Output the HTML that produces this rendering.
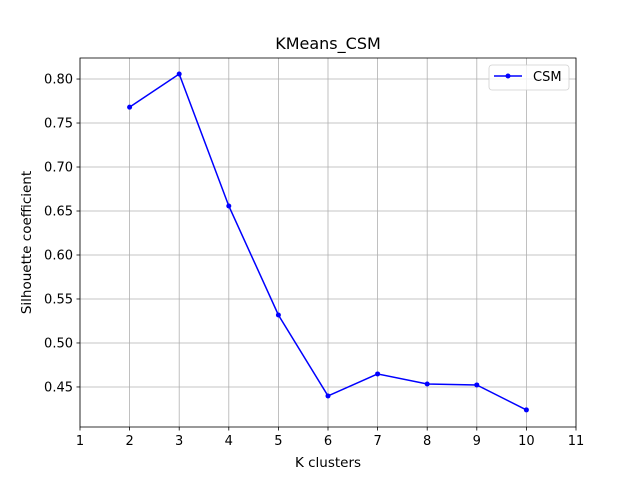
<!DOCTYPE html>
<html><head><meta charset="utf-8"><style>body{margin:0;background:#fff}svg{display:block;font-family:"DejaVu Sans","Liberation Sans",sans-serif}</style></head>
<body>
<svg id="c" width="640" height="480"></svg>
<script>
const categories=[2,3,4,5,6,7,8,9,10];
const csmValues=[0.768,0.8057,0.6557,0.5318,0.4398,0.4648,0.4534,0.4523,0.4239];
const xTicks=[1,2,3,4,5,6,7,8,9,10,11];
const yTicks=[0.45,0.50,0.55,0.60,0.65,0.70,0.75,0.80];
const L=80,R=576,T=58,B=427,xMin=1,xMax=11,yMin=0.4045,yMax=0.8239;
const X=v=>L+(v-xMin)/(xMax-xMin)*(R-L);
const Y=v=>B-(v-yMin)/(yMax-yMin)*(B-T);
const s=document.getElementById('c');const NS='http://www.w3.org/2000/svg';
function mk(t,a,p){const e=document.createElementNS(NS,t);for(const k in a)e.setAttribute(k,a[k]);(p||s).appendChild(e);return e;}
const g=mk('g',{});


xTicks.forEach(v=>{mk('line',{x1:X(v),x2:X(v),y1:T,y2:B,stroke:'#b0b0b0','stroke-width':0.8},g);});
yTicks.forEach(v=>{mk('line',{x1:L,x2:R,y1:Y(v),y2:Y(v),stroke:'#b0b0b0','stroke-width':0.8},g);});
const xa=mk('g',{});


xTicks.forEach(v=>{mk('line',{x1:X(v),x2:X(v),y1:B,y2:B+3.5,stroke:'#000','stroke-width':0.8},xa);const t=mk('text',{x:X(v),y:B+18,'text-anchor':'middle','font-size':13},xa);t.textContent=v;});
const ya=mk('g',{});


yTicks.forEach(v=>{mk('line',{x1:L-3.5,x2:L,y1:Y(v),y2:Y(v),stroke:'#000','stroke-width':0.8},ya);const t=mk('text',{x:L-7,y:Y(v)+4.5,'text-anchor':'end','font-size':13},ya);t.textContent=v.toFixed(2);});
const line=mk('polyline',{points:categories.map((c,i)=>X(c)+','+Y(csmValues[i])).join(' '),fill:'none',stroke:'#0000ff','stroke-width':1.5});


categories.forEach((c,i)=>{const p=mk('circle',{cx:X(c),cy:Y(csmValues[i]),r:2.5,fill:'#0000ff'});

});
mk('rect',{x:L,y:T,width:R-L,height:B-T,fill:'none',stroke:'#000','stroke-width':0.8});
const tt=mk('text',{x:(L+R)/2,y:T-9,'text-anchor':'middle','font-size':16});tt.textContent='KMeans_CSM';


const xt=mk('text',{x:(L+R)/2,y:B+40,'text-anchor':'middle','font-size':13.5});xt.textContent='K clusters';


const yt=mk('text',{x:0,y:0,'text-anchor':'middle','font-size':13.5,transform:`translate(31,${(T+B)/2}) rotate(-90)`});yt.textContent='Silhouette coefficient';


const lg=mk('g',{});


mk('rect',{x:489,y:65,width:80,height:25,rx:3,fill:'#fff','fill-opacity':0.8,stroke:'#d0d0d0','stroke-width':0.8},lg);
mk('line',{x1:494,x2:522,y1:76,y2:76,stroke:'#0000ff','stroke-width':1.5},lg);
mk('circle',{cx:508,cy:76,r:2.5,fill:'#0000ff'},lg);
const lt=mk('text',{x:533,y:81,'font-size':13},lg);lt.textContent='CSM';
</script>
</body></html>
